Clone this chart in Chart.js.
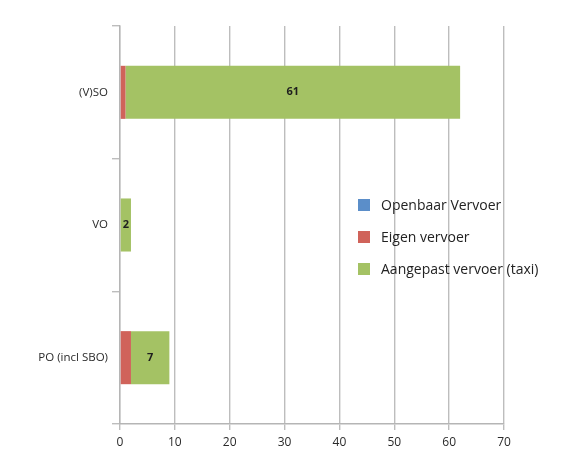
<!DOCTYPE html>
<html>
<head>
<meta charset="utf-8">
<script src="https://cdn.jsdelivr.net/npm/chart.js@4/dist/chart.umd.min.js"></script>
<style>
  html, body { margin: 0; padding: 0; background: #fff; }
  #wrap { width: 566px; height: 451px; position: relative; }
</style>
</head>
<body>
<div id="wrap"><canvas id="myChart" width="566" height="451"></canvas></div>
<script>
let categories = ['(V)SO', 'VO', 'PO (incl SBO)']
let openbaar = [0, 0, 0]
let eigen = [1, 0, 2]
let aangepast = [61, 2, 7]
let xTicks = [0, 10, 20, 30, 40, 50, 60, 70]

let font = "'Open Sans', 'Noto Sans', sans-serif"

// legend drawn inside the plot, like the original
let boxLegend = {
    id: 'boxLegend',
    afterDraw(chart) {
        let ctx = chart.ctx
        ctx.save()
        ctx.font = '14px ' + font
        ctx.textBaseline = 'middle'
        chart.data.datasets.forEach((ds, i) => {
            let y = 205 + i * 32
            ctx.fillStyle = ds.backgroundColor
            ctx.fillRect(358, y - 6, 12, 12)
            ctx.fillStyle = '#222'
            ctx.fillText(ds.label, 381, y + 1)
        })
        ctx.restore()
    }
}

// value labels in the middle of the green segment
let valueLabels = {
    id: 'valueLabels',
    afterDatasetsDraw(chart) {
        let ctx = chart.ctx
        let meta = chart.getDatasetMeta(2)
        ctx.save()
        ctx.font = 'bold 11px ' + font
        ctx.fillStyle = '#1e1e1e'
        ctx.textAlign = 'center'
        ctx.textBaseline = 'middle'
        meta.data.forEach((bar, i) => {
            let x = (bar.x + bar.base) / 2
            ctx.fillText(aangepast[i], x, bar.y)
        })
        ctx.restore()
    }
}

let ctx = document.getElementById('myChart').getContext('2d')

let myChart = new Chart(ctx, {
    type: 'bar',
    data: {
        labels: categories,
        datasets: [
            { label: 'Openbaar Vervoer', data: openbaar, backgroundColor: '#5b8ec9' },
            { label: 'Eigen vervoer', data: eigen, backgroundColor: '#d0635a' },
            { label: 'Aangepast vervoer (taxi)', data: aangepast, backgroundColor: '#a4c264' }
        ]
    },
    options: {
        indexAxis: 'y',
        responsive: false,
        animation: false,
        layout: { padding: { top: 26, right: 62, left: 0, bottom: 0 } },
        datasets: { bar: { barPercentage: 0.4, categoryPercentage: 1, borderWidth: 0 } },
        plugins: {
            legend: { display: false },
            tooltip: { enabled: false }
        },
        scales: {
            x: {
                stacked: true,
                min: 0,
                max: 70,
                afterBuildTicks: scale => { scale.ticks = xTicks.map(v => ({ value: v })) },
                afterFit: scale => { scale.height = 27 },
                grid: { color: '#bdbdbd', lineWidth: 1.4, tickLength: 6, drawTicks: true },
                border: { color: '#b5b5b5', width: 1.4 },
                ticks: { color: '#2a2a2a', font: { family: font, size: 12 }, padding: 5 }
            },
            y: {
                stacked: true,
                afterFit: scale => { scale.width = 120 },
                grid: { offset: true, drawOnChartArea: false, drawTicks: true, tickLength: 8, color: '#bdbdbd', lineWidth: 1.4 },
                border: { color: '#b5b5b5', width: 1.4 },
                ticks: { color: '#2a2a2a', font: { family: font, size: 11.5 }, padding: 4 }
            }
        }
    },
    plugins: [valueLabels, boxLegend]
})
</script>
</body>
</html>
